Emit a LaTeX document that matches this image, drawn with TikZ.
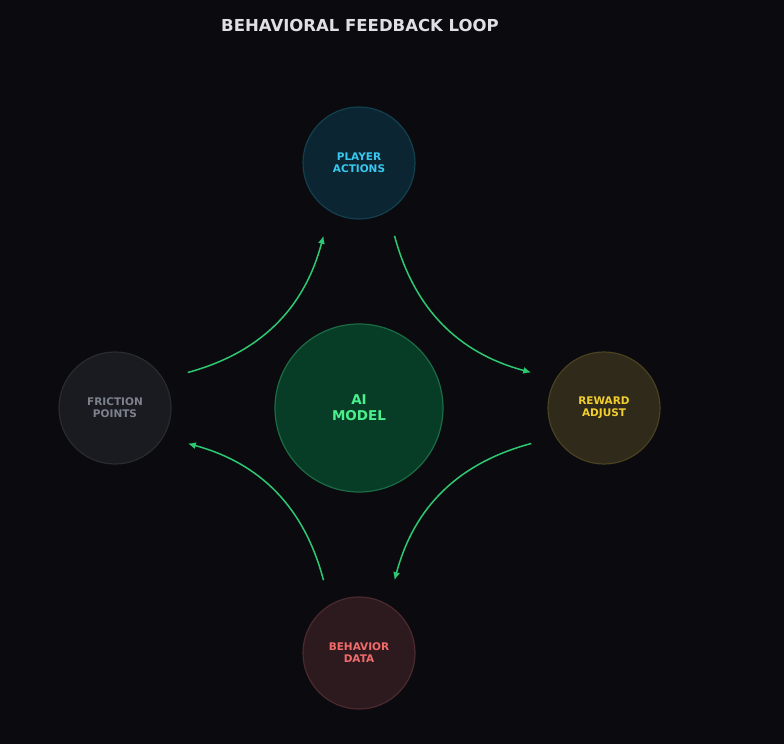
\documentclass[tikz,border=0pt]{standalone}
\usepackage{fontspec}
\setmainfont{DejaVu Sans}
\usepackage{tikz}
\usetikzlibrary{arrows.meta}

\definecolor{bgc}{HTML}{0B0B0F}
\definecolor{loopc}{HTML}{2DC872}
\definecolor{pfill}{HTML}{0B2632}
\definecolor{pline}{HTML}{12404F}
\definecolor{ptext}{HTML}{38C8F0}
\definecolor{mfill}{HTML}{073D27}
\definecolor{mline}{HTML}{1B6B43}
\definecolor{mtext}{HTML}{4AF08C}
\definecolor{ffill}{HTML}{1A1B20}
\definecolor{fline}{HTML}{2A2B31}
\definecolor{ftext}{HTML}{7D818C}
\definecolor{rfill}{HTML}{2F2A1A}
\definecolor{rline}{HTML}{4A4121}
\definecolor{rtext}{HTML}{F2CF2F}
\definecolor{bfill}{HTML}{2D1A1E}
\definecolor{bline}{HTML}{4B2A2F}
\definecolor{btext}{HTML}{F26B6B}

\begin{document}
\begin{tikzpicture}[x=1pt,y=-1pt,>={Latex[length=8pt,width=7pt]},
  stage/.style={circle,draw,line width=1.2pt,minimum size=112pt,outer sep=25pt,
    align=center,font=\fontsize{10.5}{12}\selectfont\bfseries},
  flow/.style={->,loopc,line width=1.5pt,bend right=30}]
  \fill[bgc] (0,0) rectangle (784,744);
  \useasboundingbox (0,0) rectangle (784,744);

  \node (T) at (360,25) {\fontsize{16.5}{20}\selectfont\bfseries\color[HTML]{E0E0E4}BEHAVIORAL FEEDBACK LOOP};

  \node[circle,draw=mline,fill=mfill,line width=1.2pt,minimum size=168pt,align=center,
    text=mtext,font=\fontsize{13.5}{16}\selectfont\bfseries] (AI) at (359,408) {AI\\MODEL};
  \node[stage,draw=pline,fill=pfill,text=ptext] (P) at (359,163) {PLAYER\\ACTIONS};
  \node[stage,draw=rline,fill=rfill,text=rtext] (R) at (604,408) {REWARD\\ADJUST};
  \node[stage,draw=bline,fill=bfill,text=btext] (B) at (359,653) {BEHAVIOR\\DATA};
  \node[stage,draw=fline,fill=ffill,text=ftext] (F) at (115,408) {FRICTION\\POINTS};

  \draw[flow] (F.26) to (P.244);
  \draw[flow] (P.296) to (R.154);
  \draw[flow] (R.206) to (B.64);
  \draw[flow] (B.116) to (F.334);
\end{tikzpicture}
\end{document}
